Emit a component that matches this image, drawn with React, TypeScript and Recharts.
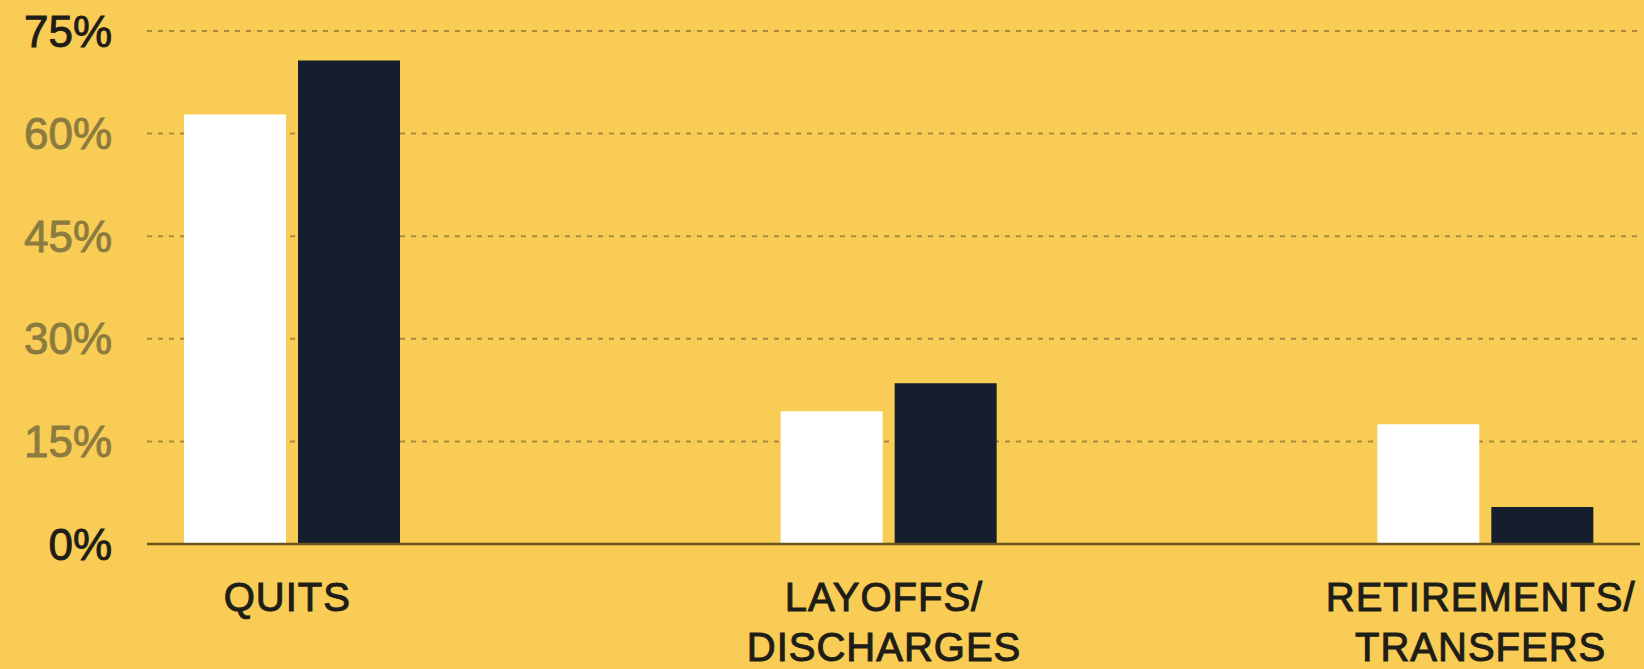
import { BarChart, Bar, XAxis, YAxis, CartesianGrid } from 'recharts';

const categories = ['QUITS', 'LAYOFFS/\nDISCHARGES', 'RETIREMENTS/\nTRANSFERS'];
const lightValues = [62.8, 19.4, 17.5];
const darkValues = [70.7, 23.5, 5.4];
const yTicks = [0, 15, 30, 45, 60, 75];

const BG = '#F8CC55';
const NAVY = '#151E2D';
const INK = '#1E1D17';

const data = categories.map((name, i) => ({
  name,
  light: lightValues[i],
  dark: darkValues[i],
}));

const YTick = ({ x, y, payload }: any) => {
  const strong = payload.value === 0 || payload.value === 75;
  const color = strong ? INK : '#8C7B40';
  return (
    <text
      x={x}
      y={y}
      dy="0.355em"
      textAnchor="end"
      fontFamily="Liberation Sans, Arial, sans-serif"
      fontSize={44}
      fill={color}
      stroke={color}
      strokeWidth={0.9}
    >
      {payload.value}%
    </text>
  );
};

const XTick = ({ x, y, payload }: any) => {
  const lines = String(payload.value).split('\n');
  return (
    <text
      x={x - 5}
      y={y + 67}
      textAnchor="middle"
      fontFamily="Liberation Sans, Arial, sans-serif"
      fontSize={40}
      letterSpacing={1}
      fill={INK}
      stroke={INK}
      strokeWidth={1}
    >
      {lines.map((line, i) => (
        <tspan key={i} x={x - 5} dy={i === 0 ? 0 : 50}>
          {line}
        </tspan>
      ))}
    </text>
  );
};

export default function App() {
  return (
    <div style={{ position: 'absolute', left: 0, top: 0, width: 1644, height: 669, background: BG, overflow: 'hidden' }}>
      <BarChart
        width={1644}
        height={669}
        data={data}
        margin={{ top: 31, right: 4, bottom: 0, left: 0 }}
        barGap={12}
        barSize={102}
      >
        <CartesianGrid vertical={false} stroke="#A88A3A" strokeWidth={2} strokeDasharray="5 6" />
        <XAxis
          dataKey="name"
          height={125}
          padding={{ left: -153, right: -144 }}
          tickLine={false}
          tickSize={0}
          tickMargin={0}
          axisLine={{ stroke: '#6A581C', strokeWidth: 2.5 }}
          tick={<XTick />}
          interval={0}
        />
        <YAxis
          width={147}
          domain={[0, 75]}
          ticks={yTicks}
          axisLine={false}
          tickLine={false}
          tickSize={0}
          tickMargin={35}
          tick={<YTick />}
          interval={0}
        />
        <Bar dataKey="light" fill="#FFFFFF" isAnimationActive={false} />
        <Bar dataKey="dark" fill={NAVY} isAnimationActive={false} />
      </BarChart>
    </div>
  );
}
